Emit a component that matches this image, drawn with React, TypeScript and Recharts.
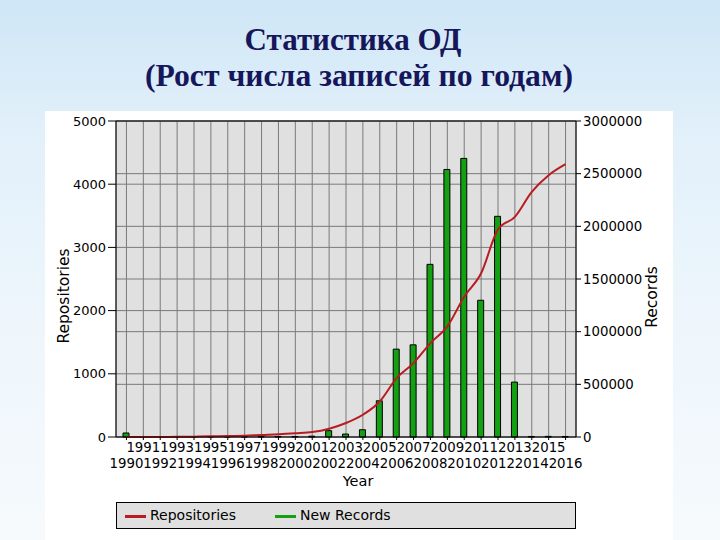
import {
  Bar,
  CartesianGrid,
  ComposedChart,
  Line,
  ReferenceLine,
  XAxis,
  YAxis,
} from "recharts";

const YEARS = [
  "1990", "1991", "1992", "1993", "1994", "1995", "1996", "1997", "1998",
  "1999", "2000", "2001", "2002", "2003", "2004", "2005", "2006", "2007",
  "2008", "2009", "2010", "2011", "2012", "2013", "2014", "2015", "2016",
];

// cumulative number of repositories (left axis)
const REPOSITORIES = [
  0, 0, 1, 2, 5, 10, 16, 21, 32, 42, 58, 78, 131, 221, 352, 562, 932, 1169,
  1485, 1750, 2220, 2590, 3285, 3484, 3879, 4142, 4316,
];

// new records per year (right axis)
const NEW_RECORDS = [
  38000, 3000, 2000, 2000, 2000, 3000, 3000, 4000, 4000, 5000, 5000, 8000,
  60000, 28000, 69000, 344000, 834000, 875000, 1639000, 2540000, 2645000,
  1298000, 2095000, 521000, 5000, 6000, 5000,
];

const LEFT_TICKS = [0, 1000, 2000, 3000, 4000, 5000];
const RIGHT_TICKS = [0, 500000, 1000000, 1500000, 2000000, 2500000, 3000000];

const data = YEARS.map((year, i) => ({
  year,
  repositories: REPOSITORIES[i],
  records: NEW_RECORDS[i],
}));

const FONT = "'DejaVu Sans', sans-serif";
const RED = "#b81c22";
const GREEN = "#13a013";
const GRID = "#7a7a7a";

function YearTick(props: any) {
  const { x, y, payload } = props;
  const firstRow = payload.index % 2 === 1;
  return (
    <text
      x={x}
      y={y + (firstRow ? 12 : 27.5)}
      textAnchor="middle"
      fontFamily={FONT}
      fontSize={13.3}
      fill="#000"
    >
      {payload.value}
    </text>
  );
}

export default function App() {
  return (
    <div
      style={{
        position: "absolute",
        left: 0,
        top: 0,
        width: 720,
        height: 540,
        overflow: "hidden",
        background:
          "linear-gradient(180deg, #cfe6f6 0%, #e2f0fa 25%, #eef6fc 60%, #f6fafd 100%)",
      }}
    >
      <div
        style={{
          position: "absolute",
          left: 53,
          top: 24,
          width: 600,
          textAlign: "center",
          fontFamily: "'Liberation Serif', serif",
          fontWeight: "bold",
          fontSize: 31,
          lineHeight: "32px",
          color: "#16165a",
        }}
      >
        Статистика ОД
      </div>
      <div
        style={{
          position: "absolute",
          left: 59,
          top: 60,
          width: 600,
          textAlign: "center",
          fontFamily: "'Liberation Serif', serif",
          fontWeight: "bold",
          fontSize: 31.7,
          lineHeight: "32px",
          color: "#16165a",
        }}
      >
        (Рост числа записей по годам)
      </div>
      <div
        style={{
          position: "absolute",
          left: 45,
          top: 111,
          width: 628,
          height: 429,
          background: "#ffffff",
        }}
      />
      <div style={{ position: "absolute", left: 0, top: 0 }}>
        <ComposedChart
          width={720}
          height={540}
          data={data}
          margin={{ top: 121, right: 0, bottom: 0, left: 0 }}
        >
          <CartesianGrid
            yAxisId="left"
            stroke={GRID}
            strokeWidth={1}
            fill="#e0e0e0"
            fillOpacity={1}
          />
          <CartesianGrid
            yAxisId="right"
            stroke={GRID}
            strokeWidth={1}
            vertical={false}
          />
          <XAxis
            dataKey="year"
            interval={0}
            height={103}
            padding={{ left: 2, right: 2 }}
            tick={<YearTick />}
            tickSize={3}
            tickMargin={0}
            axisLine={{ stroke: "#000" }}
            tickLine={{ stroke: "#000" }}
          />
          <YAxis
            yAxisId="left"
            orientation="left"
            width={116}
            domain={[0, 5000]}
            ticks={LEFT_TICKS}
            tickSize={8}
            tickMargin={2}
            tick={{ fontSize: 13, fill: "#000", fontFamily: FONT }}
            axisLine={{ stroke: "#000" }}
            tickLine={{ stroke: "#000" }}
          />
          <YAxis
            yAxisId="right"
            orientation="right"
            width={144}
            domain={[0, 3000000]}
            ticks={RIGHT_TICKS}
            tickSize={5}
            tickMargin={2}
            tick={{ fontSize: 13.3, fill: "#000", fontFamily: FONT }}
            axisLine={{ stroke: "#000" }}
            tickLine={{ stroke: "#000" }}
          />
          <ReferenceLine yAxisId="left" y={5000} stroke="#000" />
          <Bar
            yAxisId="right"
            dataKey="records"
            name="New Records"
            fill={GREEN}
            stroke="#000"
            strokeWidth={1}
            barSize={6}
            isAnimationActive={false}
          />
          <Line
            yAxisId="left"
            type="monotone"
            dataKey="repositories"
            name="Repositories"
            stroke={RED}
            strokeWidth={2}
            dot={false}
            isAnimationActive={false}
          />
          <text
            x={64}
            y={296}
            transform="rotate(-90 64 296)"
            textAnchor="middle"
            dominantBaseline="central"
            fontFamily={FONT}
            fontSize={15.5}
            fill="#000"
          >
            Repositories
          </text>
          <text
            x={652}
            y={297}
            transform="rotate(-90 652 297)"
            textAnchor="middle"
            dominantBaseline="central"
            fontFamily={FONT}
            fontSize={15.5}
            fill="#000"
          >
            Records
          </text>
          <text
            x={358}
            y={486}
            textAnchor="middle"
            fontFamily={FONT}
            fontSize={14.5}
            fill="#000"
          >
            Year
          </text>
        </ComposedChart>
      </div>
      <div
        style={{
          position: "absolute",
          left: 116,
          top: 502,
          width: 460,
          height: 27,
          boxSizing: "border-box",
          border: "1px solid #000",
          background: "#e0e0e0",
          fontFamily: FONT,
          fontSize: 14,
          color: "#000",
        }}
      >
        <div
          style={{
            position: "absolute",
            left: 8,
            top: 12,
            width: 21,
            height: 3,
            background: RED,
          }}
        />
        <div style={{ position: "absolute", left: 33, top: 4 }}>Repositories</div>
        <div
          style={{
            position: "absolute",
            left: 158,
            top: 12,
            width: 21,
            height: 3,
            background: GREEN,
          }}
        />
        <div style={{ position: "absolute", left: 183, top: 4 }}>New Records</div>
      </div>
    </div>
  );
}
